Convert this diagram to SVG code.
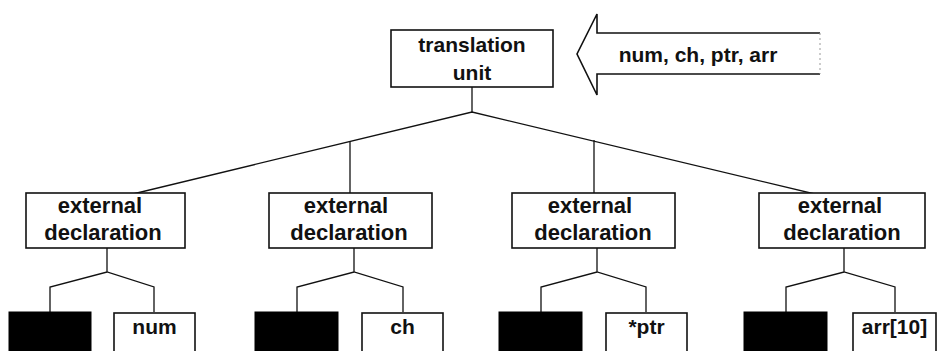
<svg xmlns="http://www.w3.org/2000/svg" width="939" height="351" viewBox="0 0 939 351">
  <style>
    .box { fill: #fff; stroke: #111; stroke-width: 1.6; }
    .blk { fill: #000; stroke: #000; stroke-width: 1; }
    .lbl { font-family: "Liberation Sans", Arial, sans-serif; font-weight: bold; font-size: 21px; fill: #111; text-anchor: middle; }
    .ext { font-size: 22px; }
    .wire { fill: none; stroke: #111; stroke-width: 1.3; }
  </style>
  <rect width="939" height="351" fill="#fff"/>

  <!-- connectors -->
  <g id="connectors" class="wire">
    <!-- root to external declarations -->
    <path d="M472 87 V112"/>
    <path d="M108 200 L472 112 L840 200"/>
    <path d="M350 141 V193"/>
    <path d="M594 140 V193"/>
    <!-- declaration subtrees -->
    <path d="M107 248 V272 M50 312 V287 L107 272 L154 287 V312"/>
    <path d="M354 248 V272 M297 312 V287 L354 272 L403 287 V312"/>
    <path d="M597 248 V272 M541 312 V287 L597 272 L646 287 V312"/>
    <path d="M844 248 V272 M786 312 V287 L844 272 L895 287 V312"/>
  </g>

  <!-- root -->
  <g id="translation-unit">
    <rect class="box" x="391" y="30" width="162" height="57"/>
    <text class="lbl" x="472" y="52">translation</text>
    <text class="lbl" x="472" y="80">unit</text>
  </g>

  <!-- incoming identifiers arrow -->
  <g id="identifiers-arrow">
    <path d="M820 33 H597 V14 L577 54 L597 95 V74 H820" fill="#fff" stroke="#111" stroke-width="1.6"/>
    <path d="M820 33 V74" fill="none" stroke="#999" stroke-width="1" stroke-dasharray="2 3"/>
    <text class="lbl" x="698" y="62" font-size="20.5">num, ch, ptr, arr</text>
  </g>

  <!-- external declarations -->
  <g id="ext-decl-1">
    <rect class="box" x="26" y="193" width="159" height="55"/>
    <text class="lbl ext" x="100" y="213">external</text>
    <text class="lbl ext" x="103" y="240">declaration</text>
  </g>
  <g id="ext-decl-2">
    <rect class="box" x="269" y="193" width="163" height="55"/>
    <text class="lbl ext" x="346" y="213">external</text>
    <text class="lbl ext" x="349" y="240">declaration</text>
  </g>
  <g id="ext-decl-3">
    <rect class="box" x="512" y="193" width="163" height="55"/>
    <text class="lbl ext" x="590" y="213">external</text>
    <text class="lbl ext" x="593" y="240">declaration</text>
  </g>
  <g id="ext-decl-4">
    <rect class="box" x="759" y="193" width="166" height="55"/>
    <text class="lbl ext" x="840" y="213">external</text>
    <text class="lbl ext" x="842" y="240">declaration</text>
  </g>

  <!-- type specifiers (filled) and declarators -->
  <g id="spec-1"><rect class="blk" x="9" y="312" width="82" height="45"/></g>
  <g id="decl-num">
    <rect class="box" x="114" y="313" width="81" height="45"/>
    <text class="lbl" x="154.5" y="334">num</text>
  </g>
  <g id="spec-2"><rect class="blk" x="255" y="312" width="83" height="45"/></g>
  <g id="decl-ch">
    <rect class="box" x="362" y="313" width="81" height="45"/>
    <text class="lbl" x="402.5" y="334">ch</text>
  </g>
  <g id="spec-3"><rect class="blk" x="499" y="312" width="83" height="45"/></g>
  <g id="decl-ptr">
    <rect class="box" x="606" y="313" width="81" height="45"/>
    <text class="lbl" x="646.5" y="334">*ptr</text>
  </g>
  <g id="spec-4"><rect class="blk" x="744" y="312" width="83" height="45"/></g>
  <g id="decl-arr">
    <rect class="box" x="853" y="313" width="83" height="45"/>
    <text class="lbl" x="894.5" y="334">arr[10]</text>
  </g>
</svg>
